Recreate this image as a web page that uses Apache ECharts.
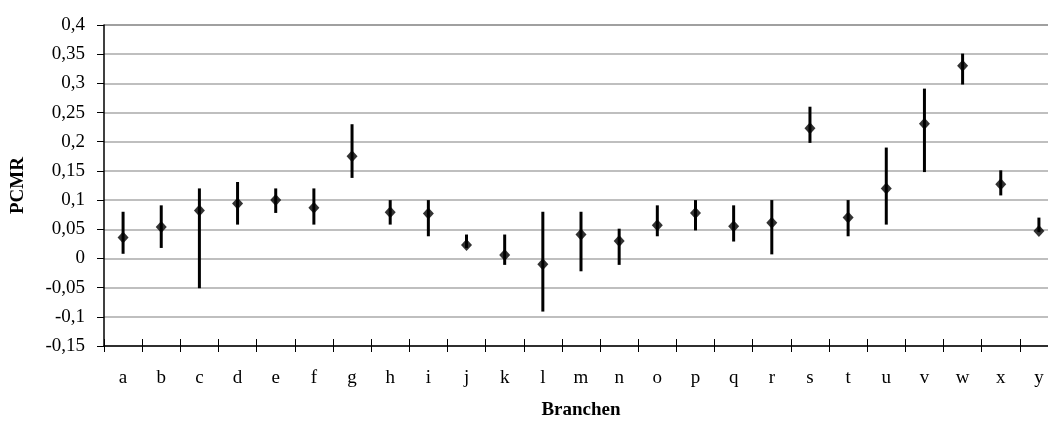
<!DOCTYPE html>
<html>
<head>
<meta charset="utf-8">
<script src="https://cdn.jsdelivr.net/npm/echarts@6/dist/echarts.min.js"></script>
<style>
  html, body { margin: 0; padding: 0; background: #fff; }
  #chart { width: 1048px; height: 421px; }
</style>
</head>
<body>
<div id="chart"></div>
<script>
const categories = ['a','b','c','d','e','f','g','h','i','j','k','l','m','n','o','p','q','r','s','t','u','v','w','x','y'];
const pcmr  = [0.036, 0.054, 0.082, 0.094, 0.100, 0.087, 0.175, 0.079, 0.077, 0.023, 0.006, -0.010, 0.041, 0.030, 0.057, 0.078, 0.055, 0.061, 0.223, 0.070, 0.120, 0.231, 0.330, 0.127, 0.047];
const upper = [0.080, 0.091, 0.120, 0.131, 0.120, 0.120, 0.230, 0.100, 0.100, 0.041, 0.041, 0.080, 0.080, 0.051, 0.091, 0.100, 0.091, 0.100, 0.260, 0.100, 0.190, 0.291, 0.351, 0.151, 0.070];
const lower = [0.008, 0.018, -0.051, 0.058, 0.078, 0.058, 0.138, 0.058, 0.038, 0.018, -0.011, -0.091, -0.022, -0.011, 0.038, 0.048, 0.029, 0.007, 0.198, 0.038, 0.058, 0.148, 0.298, 0.108, 0.045];

const font = '"Liberation Serif", "Times New Roman", serif';
const fmt = v => String(Math.round(v * 100) / 100).replace('.', ',');

const chart = echarts.init(document.getElementById('chart'));

// plot runs past the right edge in the original, so right is negative
const gridPos = { left: 104, top: 25, right: -10, bottom: 75, outerBoundsMode: 'none' };

chart.setOption({
  animation: false,
  textStyle: { fontFamily: font, color: '#000' },
  grid: [
    Object.assign({}, gridPos),
    Object.assign({}, gridPos)
  ],
  xAxis: [
    {
      type: 'category',
      data: categories,
      name: 'Branchen',
      nameLocation: 'middle',
      nameGap: 55,
      nameTextStyle: { fontFamily: font, fontWeight: 'bold', fontSize: 19, color: '#000' },
      axisLine: { onZero: false, lineStyle: { color: '#000', width: 1.5 } },
      axisTick: { show: true, length: 6, lineStyle: { color: '#000' } },
      axisLabel: { fontFamily: font, fontSize: 19, color: '#000', margin: 23 }
    },
    {
      gridIndex: 1,
      type: 'category',
      data: categories,
      axisLine: { show: false, onZero: false },
      axisTick: { show: true, inside: true, length: 7, lineStyle: { color: '#000' } },
      axisLabel: { show: false }
    }
  ],
  yAxis: [
    {
      type: 'value',
      min: -0.15,
      max: 0.4,
      interval: 0.05,
      name: 'PCMR',
      nameLocation: 'middle',
      nameRotate: 90,
      nameGap: 76,
      nameTextStyle: { fontFamily: font, fontWeight: 'bold', fontSize: 19, color: '#000' },
      axisLine: { show: true, lineStyle: { color: '#000', width: 1.5 } },
      axisTick: { show: true, length: 7, lineStyle: { color: '#000' } },
      axisLabel: { fontFamily: font, fontSize: 19, color: '#000', margin: 19, formatter: fmt },
      splitLine: {
        lineStyle: {
          color: ['#aaa','#aaa','#aaa','#aaa','#aaa','#aaa','#aaa','#aaa','#aaa','#aaa','#aaa','#808080'],
          width: 1.5
        }
      }
    },
    {
      gridIndex: 1,
      type: 'value',
      min: -0.15,
      max: 0.4,
      interval: 0.05,
      show: false
    }
  ],
  series: [
    {
      type: 'custom',
      data: categories.map((c, i) => [i, lower[i], upper[i]]),
      renderItem: (params, api) => {
        const lo = api.coord([api.value(0), api.value(1)]);
        const hi = api.coord([api.value(0), api.value(2)]);
        return {
          type: 'line',
          shape: { x1: lo[0], y1: lo[1], x2: hi[0], y2: hi[1] },
          style: { stroke: '#000', lineWidth: 3 }
        };
      },
      z: 3
    },
    {
      type: 'scatter',
      data: pcmr,
      symbol: 'diamond',
      symbolSize: [11, 12],
      itemStyle: { color: '#000' },
      z: 4
    }
  ]
});
</script>
</body>
</html>
